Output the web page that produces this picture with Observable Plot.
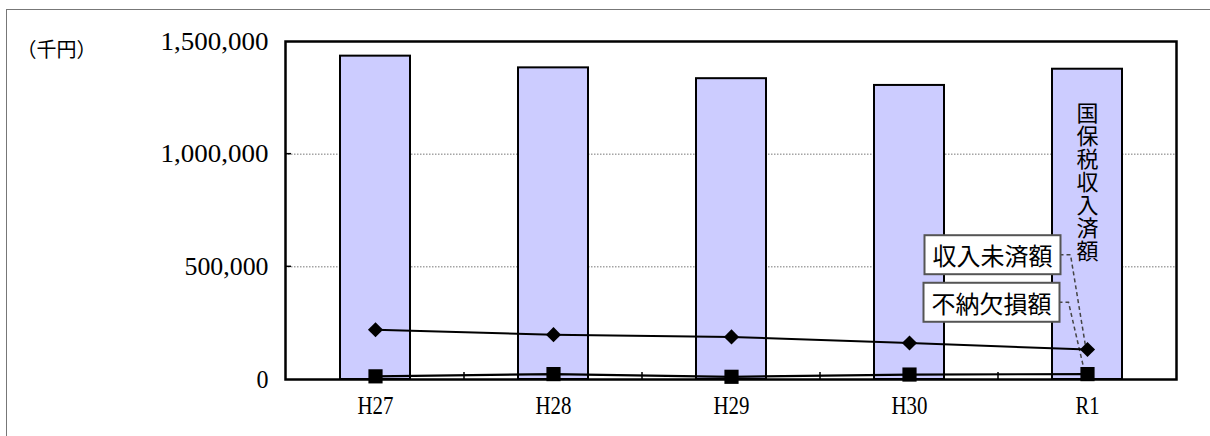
<!DOCTYPE html>
<html><head><meta charset="utf-8">
<script src="https://cdn.jsdelivr.net/npm/d3@7"></script>
<script src="https://cdn.jsdelivr.net/npm/@observablehq/plot@0.6"></script>
<style>
body{margin:0;background:#fff;}
#wrap{position:relative;width:1210px;height:436px;overflow:hidden;}
#border{position:absolute;left:6px;top:9px;width:1300px;height:600px;border:1.5px solid #777;}
#chart{position:absolute;left:0;top:0;}
</style></head><body>
<div id="wrap"><div id="border"></div><div id="chart"></div></div>
<script>
const years = ["H27","H28","H29","H30","R1"];
const collected = [1435000,1383000,1335000,1305000,1377000];   // 国保税収入済額
const uncollected = [221000,199000,189000,162000,133000];      // 収入未済額
const deficit = [14000,24000,12000,22000,24000];               // 不納欠損額
const yTicks = [0,500000,1000000,1500000];
const unitLabel = "（千円）";
const barLabel = "国保税収入済額";
const lineLabels = ["収入未済額","不納欠損額"];

const data = years.map((year,i)=>({year, collected:collected[i], uncollected:uncollected[i], deficit:deficit[i]}));
const last = data[data.length-1];
const jp = '"Noto Sans CJK JP", sans-serif';

const plot = Plot.plot({
  width:1210, height:436,
  marginLeft:285, marginRight:34, marginTop:41, marginBottom:57,
  style:{fontFamily:'"Liberation Serif", serif', fontSize:"26px", color:"#000", background:"transparent", overflow:"visible"},
  x:{domain:years, paddingInner:0.607, paddingOuter:0.3035, label:null},
  y:{domain:[0,1500000], label:null},
  marks:[
    Plot.gridY(yTicks.slice(1,3), {stroke:"#777", strokeOpacity:1, strokeDasharray:"1.5,1.5", strokeWidth:1}),
    Plot.barY(data,{x:"year", y:"collected", fill:"#ccccff", stroke:"#000", strokeWidth:2}),
    Plot.line(data,{x:"year", y:"uncollected", stroke:"#000", strokeWidth:2}),
    Plot.line(data,{x:"year", y:"deficit", stroke:"#000", strokeWidth:2.2}),
    Plot.dot(data,{x:"year", y:"uncollected", symbol:"diamond2", r:6.8, fill:"#000", stroke:"none"}),
    Plot.dot(data,{x:"year", y:"deficit", symbol:"square", r:8, fill:"#000", stroke:"none"}),
    Plot.text([unitLabel],{frameAnchor:"top-left", textAnchor:"start", dx:-269, dy:1, fontFamily:jp, fontSize:20, fill:"#000"}),
    Plot.text([last],{x:"year", y:"collected", text:()=>barLabel, textAnchor:"start", dy:25, fontFamily:jp, fontSize:22, fill:"#000", ariaDescription:"vlabel"}),
    Plot.text([last],{x:"year", y:"uncollected", text:()=>lineLabels[0], textAnchor:"end", dx:-35, dy:-92, fontFamily:jp, fontSize:24, fill:"#000", ariaDescription:"callout"}),
    Plot.text([last],{x:"year", y:"deficit", text:()=>lineLabels[1], textAnchor:"end", dx:-36, dy:-69, fontFamily:jp, fontSize:24, fill:"#000", ariaDescription:"callout"}),
    Plot.axisY(yTicks,{tickFormat:d3.format(","), tickSize:0, tickPadding:17, ariaDescription:"yax"}),
    Plot.axisX({tickSize:0, tickPadding:16, ariaDescription:"xax"}),
    Plot.frame({stroke:"#000", strokeWidth:2.5})
  ]
});
document.getElementById("chart").append(plot);

const svg = d3.select(plot);
const xs = plot.scale("x"), ys = plot.scale("y");
const cx = v => xs.apply(v) + xs.bandwidth/2;
const ns = "http://www.w3.org/2000/svg";
const svgRect = plot.getBoundingClientRect();

// vertical (tategaki) label inside the R1 bar
svg.selectAll('g[aria-description="vlabel"] text').each(function(){
  this.removeAttribute("dy");
  this.setAttribute("writing-mode","vertical-rl");
  this.style.writingMode = "vertical-rl";
  this.style.textOrientation = "upright";
  this.setAttribute("letter-spacing","1.1");
});

// condensed half-width tick labels
svg.selectAll('g[aria-description="yax"] text, g[aria-description="xax"] text').each(function(){
  const t = this.textContent;
  this.setAttribute("textLength", t.length*12);
  this.setAttribute("lengthAdjust","spacingAndGlyphs");
});

// boxes around callouts
const boxes = [];
svg.selectAll('g[aria-description="callout"] text').each(function(){
  const b = this.getBBox();
  const r = document.createElementNS(ns,"rect");
  const h = 39;
  r.setAttribute("x", b.x-8); r.setAttribute("y", b.y+b.height/2-h/2);
  r.setAttribute("width", b.width+16); r.setAttribute("height", h);
  r.setAttribute("fill","#fff"); r.setAttribute("stroke","#555"); r.setAttribute("stroke-width","2");
  const tr = this.getAttribute("transform");
  if (tr) r.setAttribute("transform", tr);
  this.parentNode.insertBefore(r,this);
  const rr = r.getBoundingClientRect();
  boxes.push({right: rr.right - svgRect.left - 1, mid: (rr.top+rr.bottom)/2 - svgRect.top});
});

// leaders, drawn under lines and markers
const barG = plot.querySelector('g[aria-label="bar"]');
const lg = d3.create("svg:g").attr("aria-label","leaders");
const targets = [[cx(last.year)-1, ys.apply(last.uncollected)], [cx(last.year)-2, ys.apply(last.deficit)]];
boxes.forEach((b,i)=>{
  const [tx,ty] = targets[i];
  lg.append("path").attr("d",`M${b.right},${b.mid}h${i===0?11:10}L${tx},${ty}`)
    .attr("fill","none").attr("stroke","#444").attr("stroke-width",1.5).attr("stroke-dasharray","4,3");
});
barG.parentNode.insertBefore(lg.node(), barG.nextSibling);

// small ticks between categories and inward y ticks
const y0 = ys.apply(0);
const tg = svg.append("g").attr("stroke","#000").attr("stroke-width",1.5);
for (let i=0;i<years.length-1;i++){
  const m = (cx(years[i])+cx(years[i+1]))/2;
  tg.append("line").attr("x1",m).attr("x2",m).attr("y1",y0).attr("y2",y0-7);
}
yTicks.slice(1,3).forEach(v=>{
  const y = ys.apply(v);
  tg.append("line").attr("x1",285).attr("x2",291).attr("y1",y).attr("y2",y);
});
</script>
</body></html>
